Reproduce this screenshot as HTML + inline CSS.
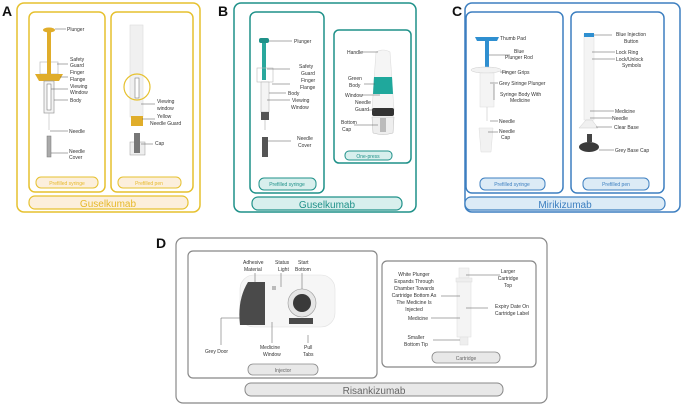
<!DOCTYPE html>
<html><head><meta charset="utf-8"><style>
html,body{margin:0;padding:0;background:#fff;width:683px;height:405px;overflow:hidden}
svg{display:block}
text{font-family:"Liberation Sans",sans-serif;font-size:5px;fill:#333}
.L{font-size:14px;font-weight:bold;fill:#111}
.ln{stroke:#555;stroke-width:0.5}
</style></head><body>
<svg width="683" height="405" viewBox="0 0 683 405" xmlns="http://www.w3.org/2000/svg">
<!-- Letters -->
<text class="L" x="2" y="16">A</text>
<text class="L" x="218" y="16">B</text>
<text class="L" x="452" y="16">C</text>
<text class="L" x="156" y="248">D</text>

<!-- PANEL A -->
<g fill="none" stroke="#e6c12f" stroke-width="1.5">
<rect x="17" y="3" width="183" height="209" rx="7"/>
<rect x="29" y="12" width="76" height="180" rx="6"/>
<rect x="111" y="12" width="82" height="180" rx="6"/>
</g>
<rect x="36" y="177" width="62" height="11" rx="5" fill="#fcefdc" stroke="#e6c12f" stroke-width="1"/>
<rect x="118" y="177" width="63" height="11" rx="5" fill="#fcefdc" stroke="#e6c12f" stroke-width="1"/>
<rect x="29" y="196" width="159" height="13" rx="6" fill="#fcefdc" stroke="#e6c12f" stroke-width="1.2"/>
<text x="67" y="185" text-anchor="middle" style="fill:#e6b92a;font-size:5px">Prefilled syringe</text>
<text x="149" y="185" text-anchor="middle" style="fill:#e6b92a;font-size:5px">Prefilled pen</text>
<text x="108" y="207" text-anchor="middle" style="fill:#e6b92a;font-size:10px">Guselkumab</text>
<!-- syringe A -->
<rect x="40" y="62" width="18" height="12" fill="none" stroke="#bbb" stroke-width="0.7"/>
<ellipse cx="49" cy="30" rx="6" ry="2.5" fill="#e0ad2a"/>
<rect x="47" y="32" width="4" height="42" fill="#e0ad2a"/>
<path d="M35 74 L63 74 L59 81 L39 81 Z" fill="#e0ad2a"/>
<rect x="44" y="81" width="10" height="32" fill="#f4f4f4" stroke="#999" stroke-width="0.7"/>
<rect x="47" y="84" width="4" height="26" fill="#fff" stroke="#666" stroke-width="0.5"/>
<line x1="49" y1="113" x2="49" y2="130" stroke="#bbb" stroke-width="0.6"/>
<rect x="47" y="136" width="4" height="21" fill="#aaa" stroke="#777" stroke-width="0.5"/>
<g class="ln"><line x1="55" y1="29" x2="66" y2="29"/><line x1="57" y1="64" x2="68" y2="64"/><line x1="60" y1="77" x2="68" y2="77"/><line x1="51" y1="89" x2="68" y2="89"/><line x1="54" y1="100" x2="68" y2="100"/><line x1="50" y1="131" x2="68" y2="131"/><line x1="51" y1="153" x2="68" y2="153"/></g>
<text x="67" y="31">Plunger</text>
<text x="70" y="61">Safety</text><text x="70" y="67">Guard</text>
<text x="70" y="74">Finger</text><text x="70" y="81">Flange</text>
<text x="70" y="88">Viewing</text><text x="70" y="94">Window</text>
<text x="70" y="102">Body</text>
<text x="69" y="133">Needle</text>
<text x="69" y="153">Needle</text><text x="69" y="159">Cover</text>
<!-- pen A -->
<rect x="130" y="25" width="13" height="92" fill="#f0f0f0" stroke="#ddd" stroke-width="0.6"/>
<rect x="135" y="78" width="4" height="20" fill="#fff" stroke="#666" stroke-width="0.5"/>
<rect x="131" y="116" width="12" height="10" fill="#e0ad2a"/>
<circle cx="137" cy="87" r="13" fill="none" stroke="#e6c12f" stroke-width="1.2"/>
<rect x="130" y="142" width="15" height="13" fill="#eee" stroke="#999" stroke-width="0.5"/>
<rect x="134" y="133" width="6" height="20" fill="#777"/>
<g class="ln"><line x1="141" y1="104" x2="155" y2="104"/><line x1="142" y1="119" x2="155" y2="119"/><line x1="141" y1="144" x2="153" y2="144"/></g>
<text x="157" y="103">Viewing</text><text x="157" y="110">window</text>
<text x="157" y="118">Yellow</text><text x="150" y="125">Needle Guard</text>
<text x="155" y="145">Cap</text>

<!-- PANEL B -->
<g fill="none" stroke="#1f9189" stroke-width="1.5">
<rect x="234" y="3" width="182" height="209" rx="7"/>
<rect x="250" y="12" width="74" height="181" rx="6"/>
<rect x="334" y="30" width="77" height="133" rx="5"/>
</g>
<rect x="259" y="178" width="57" height="12" rx="5" fill="#d8efed" stroke="#1f9189" stroke-width="1"/>
<rect x="345" y="151" width="47" height="9" rx="4" fill="#d8efed" stroke="#1f9189" stroke-width="1"/>
<rect x="252" y="197" width="150" height="13" rx="6" fill="#d8efed" stroke="#1f9189" stroke-width="1.2"/>
<text x="287" y="186" text-anchor="middle" style="fill:#1f9189">Prefilled syringe</text>
<text x="368" y="158" text-anchor="middle" style="fill:#1f9189">One-press</text>
<text x="327" y="208" text-anchor="middle" style="fill:#1f9189;font-size:10px">Guselkumab</text>
<!-- syringe B -->
<rect x="259" y="38" width="10" height="5" rx="2" fill="#1f9189"/>
<rect x="262" y="43" width="4" height="37" fill="#2aa89d"/>
<rect x="257" y="68" width="16" height="14" fill="none" stroke="#bbb" stroke-width="0.6"/>
<rect x="261" y="82" width="8" height="30" fill="#f4f4f4" stroke="#aaa" stroke-width="0.5"/>
<rect x="261" y="112" width="8" height="8" fill="#555"/>
<line x1="265" y1="120" x2="265" y2="130" stroke="#999" stroke-width="0.5"/>
<rect x="262" y="137" width="6" height="20" fill="#555"/>
<g class="ln"><line x1="269" y1="41" x2="292" y2="41"/><line x1="267" y1="69" x2="290" y2="69"/><line x1="272" y1="84" x2="290" y2="84"/><line x1="269" y1="93" x2="286" y2="93"/><line x1="267" y1="100" x2="290" y2="100"/><line x1="268" y1="141" x2="291" y2="141"/></g>
<text x="294" y="43">Plunger</text>
<text x="299" y="68">Safety</text><text x="301" y="75">Guard</text>
<text x="301" y="82">Finger</text><text x="300" y="89">Flange</text>
<text x="288" y="95">Body</text>
<text x="292" y="102">Viewing</text><text x="291" y="109">Window</text>
<text x="297" y="140">Needle</text><text x="298" y="147">Cover</text>
<!-- one-press -->
<path d="M376 52 Q383 48 390 52 L394 110 L372 110 Z" fill="#f5f5f5" stroke="#ddd" stroke-width="0.6"/>
<path d="M374 77 L392 77 L393 94 L373 94 Z" fill="#1fa89c"/>
<rect x="372" y="108" width="22" height="8" rx="2" fill="#333"/>
<path d="M372 117 L394 117 L393 133 Q383 136 373 133 Z" fill="#eee" stroke="#bbb" stroke-width="0.5"/>
<rect x="380" y="118" width="6" height="14" fill="#bbb"/>
<g class="ln"><line x1="362" y1="52" x2="378" y2="52"/><line x1="364" y1="84" x2="375" y2="84"/><line x1="362" y1="95" x2="380" y2="95"/><line x1="368" y1="110" x2="375" y2="110"/><line x1="354" y1="125" x2="378" y2="125"/></g>
<text x="347" y="54">Handle</text>
<text x="348" y="80">Green</text><text x="349" y="87">Body</text>
<text x="345" y="97">Window</text>
<text x="355" y="104">Needle</text><text x="355" y="111">Guard</text>
<text x="341" y="124">Bottom</text><text x="342" y="131">Cap</text>

<!-- PANEL C -->
<g fill="none" stroke="#3d7fc0" stroke-width="1.5">
<rect x="465" y="3" width="215" height="209" rx="7"/>
<rect x="466" y="12" width="97" height="181" rx="6"/>
<rect x="571" y="12" width="93" height="181" rx="6"/>
</g>
<rect x="480" y="178" width="65" height="12" rx="5" fill="#dcebf6" stroke="#3d7fc0" stroke-width="1"/>
<rect x="583" y="178" width="66" height="12" rx="5" fill="#dcebf6" stroke="#3d7fc0" stroke-width="1"/>
<rect x="465" y="197" width="200" height="13" rx="6" fill="#dcebf6" stroke="#3d7fc0" stroke-width="1.2"/>
<text x="512" y="186" text-anchor="middle" style="fill:#3d7fc0">Prefilled syringe</text>
<text x="616" y="186" text-anchor="middle" style="fill:#3d7fc0">Prefilled pen</text>
<text x="565" y="208" text-anchor="middle" style="fill:#3d7fc0;font-size:10px">Mirikizumab</text>
<!-- syringe C -->
<path d="M475 37 L499 37 L497 41 L477 41 Z" fill="#2f8fd0"/>
<rect x="485" y="41" width="4" height="28" fill="#2f8fd0"/>
<ellipse cx="486" cy="70" rx="15" ry="3" fill="#f2f2f2" stroke="#ccc" stroke-width="0.5"/>
<rect x="480" y="73" width="14" height="34" fill="#f4f4f4" stroke="#ddd" stroke-width="0.5"/>
<line x1="487" y1="107" x2="487" y2="121" stroke="#bbb" stroke-width="0.5"/>
<path d="M479 128 L493 128 L491 152 L481 152 Z" fill="#f2f2f2" stroke="#ddd" stroke-width="0.5"/>
<g class="ln"><line x1="498" y1="39" x2="498" y2="39"/><line x1="489" y1="55" x2="510" y2="55"/><line x1="500" y1="72" x2="508" y2="72"/><line x1="490" y1="83" x2="498" y2="83"/><line x1="490" y1="121" x2="498" y2="121"/><line x1="488" y1="132" x2="498" y2="132"/><line x1="494" y1="84" x2="494" y2="100"/></g>
<text x="500" y="40">Thumb Pad</text>
<text x="514" y="53">Blue</text><text x="505" y="59">Plunger Rod</text>
<text x="502" y="74">Finger Grips</text>
<text x="499" y="85">Grey Siringe Plunger</text>
<text x="500" y="96">Syringe Body With</text><text x="510" y="102">Medicine</text>
<text x="499" y="123">Needle</text>
<text x="499" y="133">Needle</text><text x="501" y="139">Cap</text>
<!-- pen C -->
<rect x="584" y="34" width="10" height="86" fill="#f4f4f4" stroke="#ddd" stroke-width="0.5"/>
<rect x="584" y="33" width="10" height="4" fill="#2f8fd0"/>
<path d="M586 120 L592 120 L598 128 L579 128 Z" fill="#f0f0f0" stroke="#ccc" stroke-width="0.5"/>
<rect x="587" y="134" width="5" height="8" fill="#444"/>
<ellipse cx="589" cy="147" rx="10" ry="5" fill="#3b3b3b"/>
<g class="ln"><line x1="594" y1="35" x2="612" y2="35"/><line x1="592" y1="52" x2="615" y2="52"/><line x1="592" y1="59" x2="615" y2="59"/><line x1="590" y1="111" x2="614" y2="111"/><line x1="590" y1="118" x2="612" y2="118"/><line x1="596" y1="127" x2="612" y2="127"/><line x1="599" y1="150" x2="614" y2="150"/></g>
<text x="616" y="36">Blue Injection</text><text x="624" y="43">Button</text>
<text x="616" y="54">Lock Ring</text>
<text x="616" y="61">Lock/Unlock</text><text x="622" y="67">Symbols</text>
<text x="615" y="113">Medicine</text>
<text x="612" y="120">Needle</text>
<text x="614" y="129">Clear Base</text>
<text x="615" y="152">Grey Base Cap</text>

<!-- PANEL D -->
<g fill="none" stroke="#888" stroke-width="1.2">
<rect x="176" y="238" width="371" height="165" rx="7"/>
<rect x="188" y="251" width="189" height="127" rx="5"/>
<rect x="382" y="261" width="154" height="106" rx="5"/>
</g>
<rect x="248" y="364" width="70" height="11" rx="5" fill="#e8e8e8" stroke="#888" stroke-width="0.8"/>
<rect x="432" y="352" width="68" height="11" rx="5" fill="#e8e8e8" stroke="#888" stroke-width="0.8"/>
<rect x="245" y="383" width="258" height="13" rx="6" fill="#e8e8e8" stroke="#888" stroke-width="1"/>
<text x="283" y="372" text-anchor="middle" style="fill:#666">Injector</text>
<text x="466" y="360" text-anchor="middle" style="fill:#666">Cartridge</text>
<text x="374" y="394" text-anchor="middle" style="fill:#666;font-size:10px">Risankizumab</text>
<!-- injector -->
<rect x="240" y="275" width="95" height="52" rx="14" fill="#f6f6f6" stroke="#e0e0e0" stroke-width="0.6"/>
<path d="M248 282 L265 282 L265 325 L240 325 Q237 300 248 282 Z" fill="#4a4a4a"/>
<rect x="272" y="286" width="4" height="4" fill="#bbb"/>
<circle cx="302" cy="303" r="14" fill="#e6e6e6" stroke="#999" stroke-width="0.6"/>
<circle cx="302" cy="303" r="9" fill="#3a3a3a"/>
<rect x="289" y="318" width="24" height="6" fill="#4a4a4a"/>
<g class="ln"><line x1="255" y1="273" x2="255" y2="283"/><line x1="281" y1="273" x2="281" y2="287"/><line x1="302" y1="273" x2="302" y2="289"/><line x1="221" y1="318" x2="240" y2="318"/><line x1="221" y1="318" x2="221" y2="345"/><line x1="272" y1="322" x2="272" y2="343"/><line x1="308" y1="335" x2="308" y2="343"/></g>
<text x="243" y="264">Adhesive</text><text x="244" y="271">Material</text>
<text x="275" y="264">Status</text><text x="278" y="271">Light</text>
<text x="298" y="264">Start</text><text x="295" y="271">Bottom</text>
<text x="205" y="353">Grey Door</text>
<text x="260" y="349">Medicine</text><text x="263" y="356">Window</text>
<text x="304" y="349">Pull</text><text x="303" y="356">Tabs</text>
<!-- cartridge -->
<rect x="459" y="268" width="10" height="10" fill="#f2f2f2" stroke="#ddd" stroke-width="0.5"/>
<rect x="456" y="278" width="16" height="4" fill="#eee" stroke="#ddd" stroke-width="0.5"/>
<rect x="457" y="282" width="14" height="55" fill="#f4f4f4" stroke="#ddd" stroke-width="0.5"/>
<rect x="460" y="337" width="8" height="8" fill="#eee" stroke="#ddd" stroke-width="0.5"/>
<g class="ln"><line x1="441" y1="296" x2="460" y2="296"/><line x1="431" y1="318" x2="460" y2="318"/><line x1="433" y1="340" x2="460" y2="340"/><line x1="466" y1="275" x2="500" y2="275"/><line x1="466" y1="308" x2="488" y2="308"/></g>
<text x="414" y="276" text-anchor="middle">White Plunger</text>
<text x="414" y="283" text-anchor="middle">Expands Through</text>
<text x="414" y="290" text-anchor="middle">Chamber Towards</text>
<text x="414" y="297" text-anchor="middle">Cartridge Bottom As</text>
<text x="414" y="304" text-anchor="middle">The Medicine Is</text>
<text x="414" y="311" text-anchor="middle">Injected</text>
<text x="418" y="320" text-anchor="middle">Medicine</text>
<text x="416" y="339" text-anchor="middle">Smaller</text>
<text x="416" y="346" text-anchor="middle">Bottom Tip</text>
<text x="508" y="273" text-anchor="middle">Larger</text>
<text x="508" y="280" text-anchor="middle">Cartridge</text>
<text x="508" y="287" text-anchor="middle">Top</text>
<text x="512" y="308" text-anchor="middle">Expiry Date On</text>
<text x="512" y="315" text-anchor="middle">Cartridge Label</text>
</svg>
</body></html>
